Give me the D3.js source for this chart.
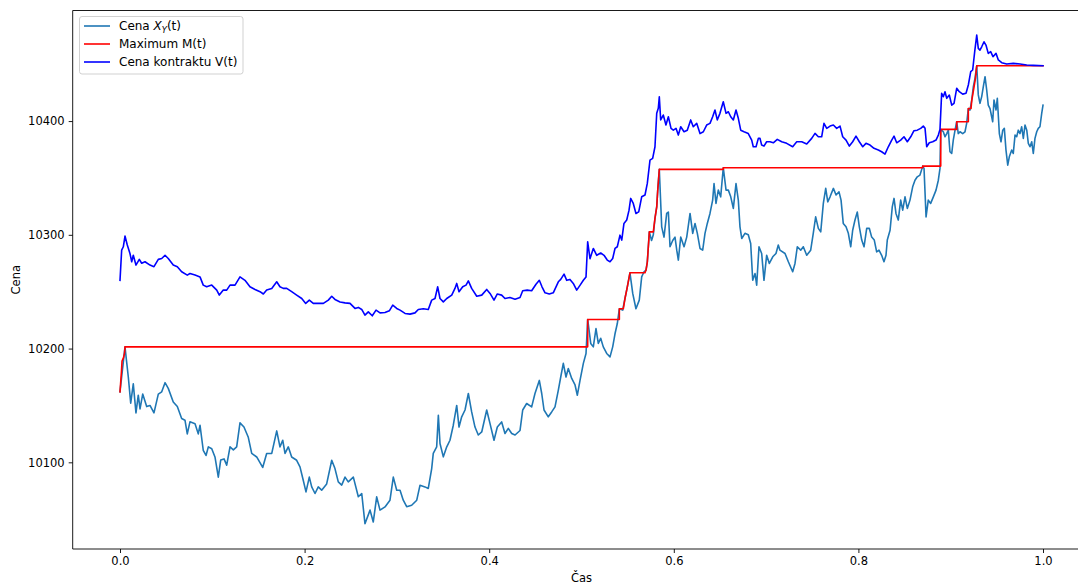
<!DOCTYPE html>
<html>
<head>
<meta charset="utf-8">
<script src="https://cdn.jsdelivr.net/npm/d3@7"></script>
<style>
  html, body { margin: 0; padding: 0; background: #ffffff; }
  svg { display: block; font-family: "DejaVu Sans", sans-serif; }
</style>
</head>
<body>
<svg id="chart" width="1078" height="585"></svg>
<script>
// ---- Price path X_Y(t) ----
const timeX = [0.0000,0.0054,0.0090,0.0116,0.0144,0.0173,0.0198,0.0217,0.0246,0.0289,0.0325,0.0368,0.0415,0.0452,0.0488,0.0523,0.0577,0.0621,0.0668,0.0704,0.0729,0.0758,0.0813,0.0848,0.0867,0.0902,0.0932,0.0957,0.0994,0.1029,0.1065,0.1091,0.1127,0.1156,0.1192,0.1228,0.1264,0.1300,0.1343,0.1390,0.1427,0.1481,0.1546,0.1589,0.1644,0.1698,0.1733,0.1763,0.1788,0.1823,0.1860,0.1914,0.1950,0.1986,0.2015,0.2051,0.2077,0.2113,0.2148,0.2185,0.2239,0.2294,0.2329,0.2365,0.2402,0.2438,0.2473,0.2528,0.2582,0.2619,0.2654,0.2709,0.2744,0.2781,0.2817,0.2871,0.2925,0.2961,0.2998,0.3034,0.3069,0.3106,0.3160,0.3215,0.3250,0.3304,0.3340,0.3377,0.3394,0.3431,0.3449,0.3467,0.3503,0.3540,0.3575,0.3611,0.3648,0.3673,0.3702,0.3738,0.3774,0.3810,0.3846,0.3882,0.3919,0.3973,0.4009,0.4052,0.4088,0.4135,0.4171,0.4207,0.4244,0.4280,0.4334,0.4363,0.4406,0.4460,0.4496,0.4543,0.4569,0.4594,0.4640,0.4677,0.4713,0.4749,0.4775,0.4803,0.4832,0.4857,0.4894,0.4930,0.4955,0.4984,0.5020,0.5049,0.5067,0.5100,0.5128,0.5157,0.5182,0.5208,0.5236,0.5273,0.5309,0.5338,0.5363,0.5388,0.5410,0.5446,0.5471,0.5496,0.5525,0.5555,0.5590,0.5626,0.5652,0.5677,0.5699,0.5713,0.5735,0.5759,0.5778,0.5796,0.5815,0.5826,0.5843,0.5869,0.5894,0.5923,0.5941,0.5959,0.5988,0.6013,0.6032,0.6049,0.6075,0.6111,0.6140,0.6176,0.6205,0.6230,0.6255,0.6284,0.6313,0.6338,0.6363,0.6392,0.6421,0.6436,0.6457,0.6482,0.6508,0.6536,0.6566,0.6591,0.6617,0.6645,0.6674,0.6699,0.6717,0.6736,0.6771,0.6807,0.6833,0.6855,0.6880,0.6898,0.6923,0.6952,0.6977,0.7006,0.7035,0.7072,0.7107,0.7132,0.7150,0.7205,0.7241,0.7288,0.7313,0.7338,0.7375,0.7403,0.7440,0.7483,0.7511,0.7537,0.7566,0.7592,0.7620,0.7646,0.7668,0.7693,0.7729,0.7758,0.7790,0.7812,0.7836,0.7866,0.7891,0.7917,0.7938,0.7963,0.7988,0.8010,0.8036,0.8061,0.8090,0.8118,0.8144,0.8172,0.8198,0.8223,0.8252,0.8277,0.8299,0.8313,0.8343,0.8367,0.8386,0.8407,0.8432,0.8458,0.8480,0.8505,0.8530,0.8559,0.8588,0.8613,0.8638,0.8667,0.8697,0.8711,0.8733,0.8757,0.8783,0.8812,0.8841,0.8866,0.8884,0.8892,0.8920,0.8938,0.8957,0.8974,0.8992,0.9011,0.9028,0.9047,0.9065,0.9082,0.9101,0.9130,0.9155,0.9173,0.9191,0.9209,0.9228,0.9245,0.9263,0.9282,0.9299,0.9317,0.9336,0.9353,0.9372,0.9390,0.9407,0.9426,0.9444,0.9455,0.9469,0.9491,0.9505,0.9527,0.9545,0.9564,0.9581,0.9599,0.9618,0.9635,0.9661,0.9678,0.9697,0.9715,0.9732,0.9751,0.9769,0.9787,0.9805,0.9824,0.9841,0.9859,0.9878,0.9895,0.9913,0.9932,0.9949,0.9967,0.9986,1.0000];
const priceX = [10162,10201.5,10175,10152,10169,10143.5,10159,10147,10160,10149,10150,10143.5,10160,10162,10170,10165,10153,10149,10138.5,10137,10125,10135.6,10134,10125,10132.6,10110.6,10106,10113.6,10112,10104.7,10087,10102,10103,10097.5,10113.6,10111,10113.6,10134.7,10131,10122,10107.8,10104.7,10095.5,10107.8,10107.8,10127.6,10113.6,10119.4,10107.8,10113.6,10104.7,10101.8,10096,10084,10074,10087,10078.4,10072.6,10078.4,10075.5,10081,10101.8,10094.5,10082.8,10080,10087,10082.8,10087,10069.7,10072.6,10046,10058,10047.6,10069.6,10058,10060.8,10066.7,10087,10075.5,10075.5,10066.7,10061,10062.3,10066.7,10079.8,10078.4,10077,10094.5,10107.8,10113.6,10141.4,10116.6,10104.8,10113.6,10119.4,10132.6,10150,10131,10140,10146,10160.5,10144.3,10131,10124,10126.7,10146,10134,10119.4,10131,10135.5,10125.3,10129.8,10125.3,10124,10128,10146,10151.7,10148.7,10160.5,10172,10160.5,10146,10140,10144.3,10148.7,10163.4,10175,10187,10175,10182.5,10173.7,10168,10159,10172,10187,10195.7,10225.6,10204.5,10201.5,10217.6,10204.5,10209,10201.5,10195.7,10192.7,10201.5,10213,10222,10235,10233.8,10244,10254,10266.6,10248.5,10235,10242.6,10263,10267.5,10269,10276,10302.6,10295,10300,10314.4,10324.6,10339.3,10357.5,10307,10298,10318.8,10320,10289.5,10295,10298,10286.5,10277.8,10298,10289.5,10298,10318.8,10301.3,10310,10301.3,10288,10286.5,10301.3,10310,10318.8,10330.5,10345,10327.6,10339.3,10333.4,10359,10339.3,10339.3,10333.4,10323.2,10345,10330.5,10307,10296.8,10301.3,10300,10292.4,10260,10266,10255.8,10289.5,10283.6,10260,10282,10274.8,10280.7,10283.6,10291,10286.5,10283.6,10276.3,10267.5,10274.8,10289.5,10286.5,10289.5,10282,10286.5,10301.3,10315.8,10305.7,10302.6,10327.6,10340.8,10329,10333.4,10340.8,10335,10337.8,10330.5,10310,10307,10301.3,10289.5,10304,10313,10320,10307,10295.4,10289.5,10305.7,10305.7,10298,10295.4,10285,10286.5,10282,10276.3,10282,10295.4,10304,10324.6,10332,10318.8,10313,10330.5,10321.7,10333.4,10323.2,10330.5,10342.2,10348,10351,10352.5,10360.4,10358.4,10315.8,10330.5,10327.6,10333.4,10339.3,10348,10358.4,10392.7,10390.6,10386.2,10389,10392,10373,10371.5,10383.3,10392,10399.4,10389,10390.6,10389,10390.6,10398,10411,10409.7,10418.5,10430,10437.6,10448.6,10423,10415.6,10421.5,10430,10439,10427.3,10414,10411,10403.8,10399.4,10418.5,10409.7,10420,10389,10381.8,10392,10393.6,10374.5,10361.3,10368.6,10374.5,10371.5,10387.7,10386.2,10392,10389,10395,10384.8,10396.5,10392,10380.4,10377.4,10381.8,10371.5,10384.8,10390.6,10393.6,10395,10406.8,10414];

// ---- Running maximum M(t) ----
const timeM = [0.0000,0.0016,0.0022,0.0038,0.0049,0.0054,0.5067,0.5067,0.5410,0.5410,0.5453,0.5471,0.5496,0.5525,0.5688,0.5699,0.5713,0.5735,0.5778,0.5796,0.5815,0.5826,0.5843,0.6536,0.6536,0.8697,0.8697,0.8892,0.8892,0.9065,0.9065,0.9191,0.9191,0.9220,0.9228,0.9253,0.9269,0.9282,1.0000];
const maxM = [10162,10180,10189,10192,10196,10201.5,10201.5,10225.6,10225.6,10235,10235,10244,10254,10266.6,10266.6,10269,10276,10302.6,10302.6,10314.4,10324.6,10339.3,10357.5,10357.5,10359,10359,10360.4,10360.4,10392.7,10392.7,10399.4,10399.4,10411,10411,10418,10430,10438,10448.6,10448.6];

// ---- Contract price V(t) ----
const timeV = [0.0000,0.0018,0.0036,0.0054,0.0079,0.0108,0.0127,0.0144,0.0173,0.0209,0.0235,0.0271,0.0325,0.0368,0.0415,0.0452,0.0488,0.0523,0.0577,0.0621,0.0668,0.0729,0.0758,0.0813,0.0867,0.0902,0.0939,0.0994,0.1048,0.1076,0.1119,0.1156,0.1192,0.1246,0.1300,0.1354,0.1408,0.1463,0.1517,0.1553,0.1589,0.1644,0.1698,0.1733,0.1769,0.1806,0.1860,0.1914,0.1969,0.2012,0.2051,0.2094,0.2148,0.2203,0.2257,0.2294,0.2329,0.2384,0.2438,0.2492,0.2546,0.2582,0.2619,0.2654,0.2690,0.2733,0.2774,0.2817,0.2871,0.2918,0.2955,0.2998,0.3034,0.3088,0.3142,0.3196,0.3232,0.3286,0.3340,0.3377,0.3413,0.3442,0.3467,0.3503,0.3540,0.3594,0.3629,0.3648,0.3673,0.3713,0.3749,0.3774,0.3810,0.3865,0.3919,0.3973,0.4009,0.4052,0.4088,0.4135,0.4171,0.4225,0.4280,0.4334,0.4363,0.4412,0.4460,0.4507,0.4543,0.4572,0.4605,0.4651,0.4694,0.4749,0.4775,0.4811,0.4840,0.4875,0.4911,0.4948,0.4987,0.5020,0.5049,0.5067,0.5092,0.5128,0.5165,0.5208,0.5244,0.5279,0.5309,0.5338,0.5363,0.5388,0.5417,0.5436,0.5460,0.5490,0.5515,0.5533,0.5561,0.5590,0.5620,0.5652,0.5688,0.5713,0.5742,0.5771,0.5796,0.5815,0.5832,0.5843,0.5858,0.5886,0.5915,0.5941,0.5970,0.5995,0.6024,0.6049,0.6075,0.6111,0.6146,0.6183,0.6211,0.6248,0.6284,0.6320,0.6356,0.6392,0.6421,0.6446,0.6471,0.6500,0.6536,0.6566,0.6591,0.6617,0.6645,0.6674,0.6699,0.6725,0.6761,0.6807,0.6844,0.6861,0.6891,0.6916,0.6934,0.6952,0.6977,0.7006,0.7042,0.7078,0.7121,0.7169,0.7223,0.7288,0.7332,0.7386,0.7440,0.7494,0.7530,0.7566,0.7602,0.7627,0.7657,0.7693,0.7729,0.7765,0.7801,0.7830,0.7866,0.7902,0.7938,0.7974,0.8010,0.8047,0.8082,0.8126,0.8169,0.8216,0.8252,0.8288,0.8324,0.8361,0.8386,0.8415,0.8458,0.8494,0.8530,0.8567,0.8602,0.8638,0.8675,0.8703,0.8722,0.8740,0.8768,0.8805,0.8841,0.8866,0.8884,0.8902,0.8920,0.8938,0.8957,0.8985,0.9011,0.9036,0.9065,0.9093,0.9130,0.9166,0.9191,0.9217,0.9238,0.9260,0.9282,0.9299,0.9317,0.9336,0.9361,0.9382,0.9407,0.9433,0.9458,0.9491,0.9516,0.9553,0.9607,0.9678,0.9751,0.9824,0.9895,1.0000];
const contractV = [10260,10286.5,10289.5,10298.9,10291,10283.6,10276.3,10282,10273.4,10278.4,10275,10276.3,10273.4,10272,10278.4,10279.2,10282,10279.2,10273.4,10272,10267.5,10264.6,10266,10264.6,10263,10255.8,10254.3,10255.8,10251.4,10247,10251.4,10251.4,10255.8,10255.8,10263,10260,10254.3,10252,10250,10248,10251.4,10252.9,10258.7,10254.3,10252.9,10252.9,10250,10247,10244,10239.7,10242.6,10239.7,10239.7,10239.7,10242.6,10246,10243.2,10241,10240.2,10239.7,10235.3,10236.2,10234.4,10229.4,10232.3,10228.8,10233.8,10231.4,10231.7,10233.2,10238.2,10235.3,10233.8,10230.9,10230.3,10231.4,10234.4,10235,10234.4,10242.6,10244,10254.3,10244,10241,10244,10247,10252.9,10257.3,10250,10254.3,10255.8,10259.5,10252.9,10246,10247,10252,10248.5,10242.6,10248,10247,10244,10244.9,10243.4,10244.9,10250.8,10251.4,10250.8,10256.6,10260,10254.3,10249,10248,10249,10258.7,10260.8,10265.4,10260,10260.8,10257.3,10251.4,10256,10260,10263,10293.8,10279,10288,10282,10284,10282,10277.8,10276.3,10279.2,10288,10289.5,10299.7,10295.4,10310,10313,10321.7,10332,10327.6,10318.8,10320.2,10333.4,10335,10345.2,10365.7,10367.2,10377.4,10406.8,10411.2,10421.4,10401,10405.3,10396.5,10403.8,10393.6,10392,10393.6,10387.7,10395,10390.6,10392,10401,10395,10398,10389,10390.6,10396.5,10398,10403.8,10409.7,10401,10406.8,10417,10406.8,10408.2,10403.8,10401,10409.7,10402.4,10392,10390.6,10389,10383.3,10377.4,10377.4,10384.8,10384.8,10378.9,10378,10381.8,10381.8,10380.9,10383.9,10381.8,10380.4,10377.4,10381.8,10381.8,10379.8,10384.8,10389.2,10386.2,10386.2,10398,10393.6,10395.6,10396.5,10393.6,10395.6,10386.2,10383.3,10378,10381.8,10386.8,10381.8,10377.4,10380.4,10378.9,10376,10374.5,10373,10371,10377.4,10383.3,10386.8,10380.9,10383.3,10386.2,10381.8,10386.2,10391.5,10392,10393.6,10395.6,10393.6,10377.4,10380.9,10381.8,10383.3,10387.7,10392.7,10424.4,10421.4,10425.8,10420,10422.9,10414,10415.6,10428.8,10425.8,10423.7,10424.4,10431.7,10443.4,10444.9,10461,10475.6,10463.9,10462.4,10465.3,10469.7,10466.8,10459.5,10461,10456.6,10459.5,10453.7,10451.3,10450.1,10450.7,10450.1,10449.3,10449,10448.6];

// ---- Axis ticks and labels ----
const xTicks = [0.0, 0.2, 0.4, 0.6, 0.8, 1.0];
const yTicks = [10100, 10200, 10300, 10400];
const xLimits = [-0.0512, 1.0512];
const yLimits = [10023.8, 10497.2];
const seriesNames = ["Maximum M(t)", "Cena kontraktu V(t)"];
const axisNames = { x: "Čas", y: "Cena" };

const svg = d3.select("#chart");
const W = 1078, H = 585;
const plot = { left: 72.7, top: 10.5, bottom: 549 };
const x = d3.scaleLinear().domain([0, 1]).range([120, 1043]);
plot.right = x(xLimits[1]);
const y = d3.scaleLinear().domain(yLimits).range([plot.bottom, plot.top]);

svg.append("rect").attr("width", W).attr("height", H).attr("fill", "#ffffff");

svg.append("defs").append("clipPath").attr("id", "plotClip")
  .append("rect")
  .attr("x", plot.left).attr("y", plot.top)
  .attr("width", plot.right - plot.left).attr("height", plot.bottom - plot.top);

const lineGen = d3.line().x(d => x(d[0])).y(d => y(d[1]));
const zip = (ts, vs) => ts.map((t, i) => [t, vs[i]]);

const lines = svg.append("g").attr("clip-path", "url(#plotClip)");
const series = [
  { data: zip(timeX, priceX), color: "#1f77b4" },
  { data: zip(timeM, maxM), color: "#ff0000" },
  { data: zip(timeV, contractV), color: "#0000ff" }
];
series.forEach(s => {
  lines.append("path")
    .attr("d", lineGen(s.data))
    .attr("fill", "none")
    .attr("stroke", s.color)
    .attr("stroke-width", 1.6)
    .attr("stroke-linejoin", "round")
    .attr("stroke-linecap", "square");
});

// Spines (right edge lies beyond the canvas)
const spine = svg.append("g").attr("stroke", "#000").attr("stroke-width", 0.9).attr("fill", "none");
spine.append("line").attr("x1", plot.left).attr("x2", plot.left).attr("y1", plot.top).attr("y2", plot.bottom);
spine.append("line").attr("x1", plot.left).attr("x2", plot.right).attr("y1", plot.bottom).attr("y2", plot.bottom);
spine.append("line").attr("x1", plot.left).attr("x2", plot.right).attr("y1", plot.top).attr("y2", plot.top);
spine.append("line").attr("x1", plot.right).attr("x2", plot.right).attr("y1", plot.top).attr("y2", plot.bottom);

// Axes
const fontSize = 11.5;
const xAxis = svg.append("g")
  .attr("transform", `translate(0,${plot.bottom})`)
  .call(d3.axisBottom(x).tickValues(xTicks).tickFormat(d3.format(".1f")).tickSize(4).tickPadding(4).tickSizeOuter(0));
const yAxis = svg.append("g")
  .attr("transform", `translate(${plot.left},0)`)
  .call(d3.axisLeft(y).tickValues(yTicks).tickFormat(d3.format("d")).tickSize(4).tickPadding(4).tickSizeOuter(0));
[xAxis, yAxis].forEach(a => {
  a.select(".domain").remove();
  a.selectAll(".tick line").attr("stroke", "#000").attr("stroke-width", 0.9);
  a.selectAll(".tick text")
    .attr("fill", "#000")
    .style("font-family", "'DejaVu Sans', sans-serif")
    .style("font-size", fontSize + "px");
});

svg.append("text")
  .attr("x", (plot.left + plot.right) / 2)
  .attr("y", 582)
  .attr("text-anchor", "middle")
  .style("font-size", fontSize + "px")
  .text(axisNames.x);

svg.append("text")
  .attr("transform", `translate(20,${(plot.top + plot.bottom) / 2}) rotate(-90)`)
  .attr("text-anchor", "middle")
  .style("font-size", fontSize + "px")
  .text(axisNames.y);

// Legend
const legend = svg.append("g");
legend.append("rect")
  .attr("x", 79.5).attr("y", 16.5).attr("width", 163.5).attr("height", 57.5)
  .attr("rx", 2.5).attr("ry", 2.5)
  .attr("fill", "#ffffff").attr("fill-opacity", 0.8)
  .attr("stroke", "#cccccc").attr("stroke-width", 0.9);

const rowY = [26, 44, 62];
series.forEach((s, i) => {
  legend.append("line")
    .attr("x1", 84).attr("x2", 110).attr("y1", rowY[i]).attr("y2", rowY[i])
    .attr("stroke", s.color).attr("stroke-width", 1.6);
});

const legendTexts = [];
const t0 = legend.append("text")
  .attr("x", 119).attr("y", rowY[0]).attr("dy", "0.36em")
  .style("font-size", fontSize + "px");
t0.append("tspan").text("Cena ");
t0.append("tspan").style("font-style", "italic").text("X");
t0.append("tspan").attr("class", "sub").style("font-style", "italic").attr("dy", "3").text("Y");
t0.append("tspan").attr("dy", "-3").text("(t)");
legendTexts.push(t0);

seriesNames.forEach((name, i) => {
  legendTexts.push(legend.append("text")
    .attr("x", 119).attr("y", rowY[i + 1]).attr("dy", "0.36em")
    .style("font-size", fontSize + "px")
    .text(name));
});

// Fit the longest legend entry to the legend box width
const longest = legendTexts[2].node().getComputedTextLength();
const legendSize = Math.max(10, Math.min(12.5, fontSize * 118.5 / longest));
legendTexts.forEach(t => t.style("font-size", legendSize + "px"));
t0.select(".sub").style("font-size", (legendSize * 0.7) + "px");
</script>
</body>
</html>
